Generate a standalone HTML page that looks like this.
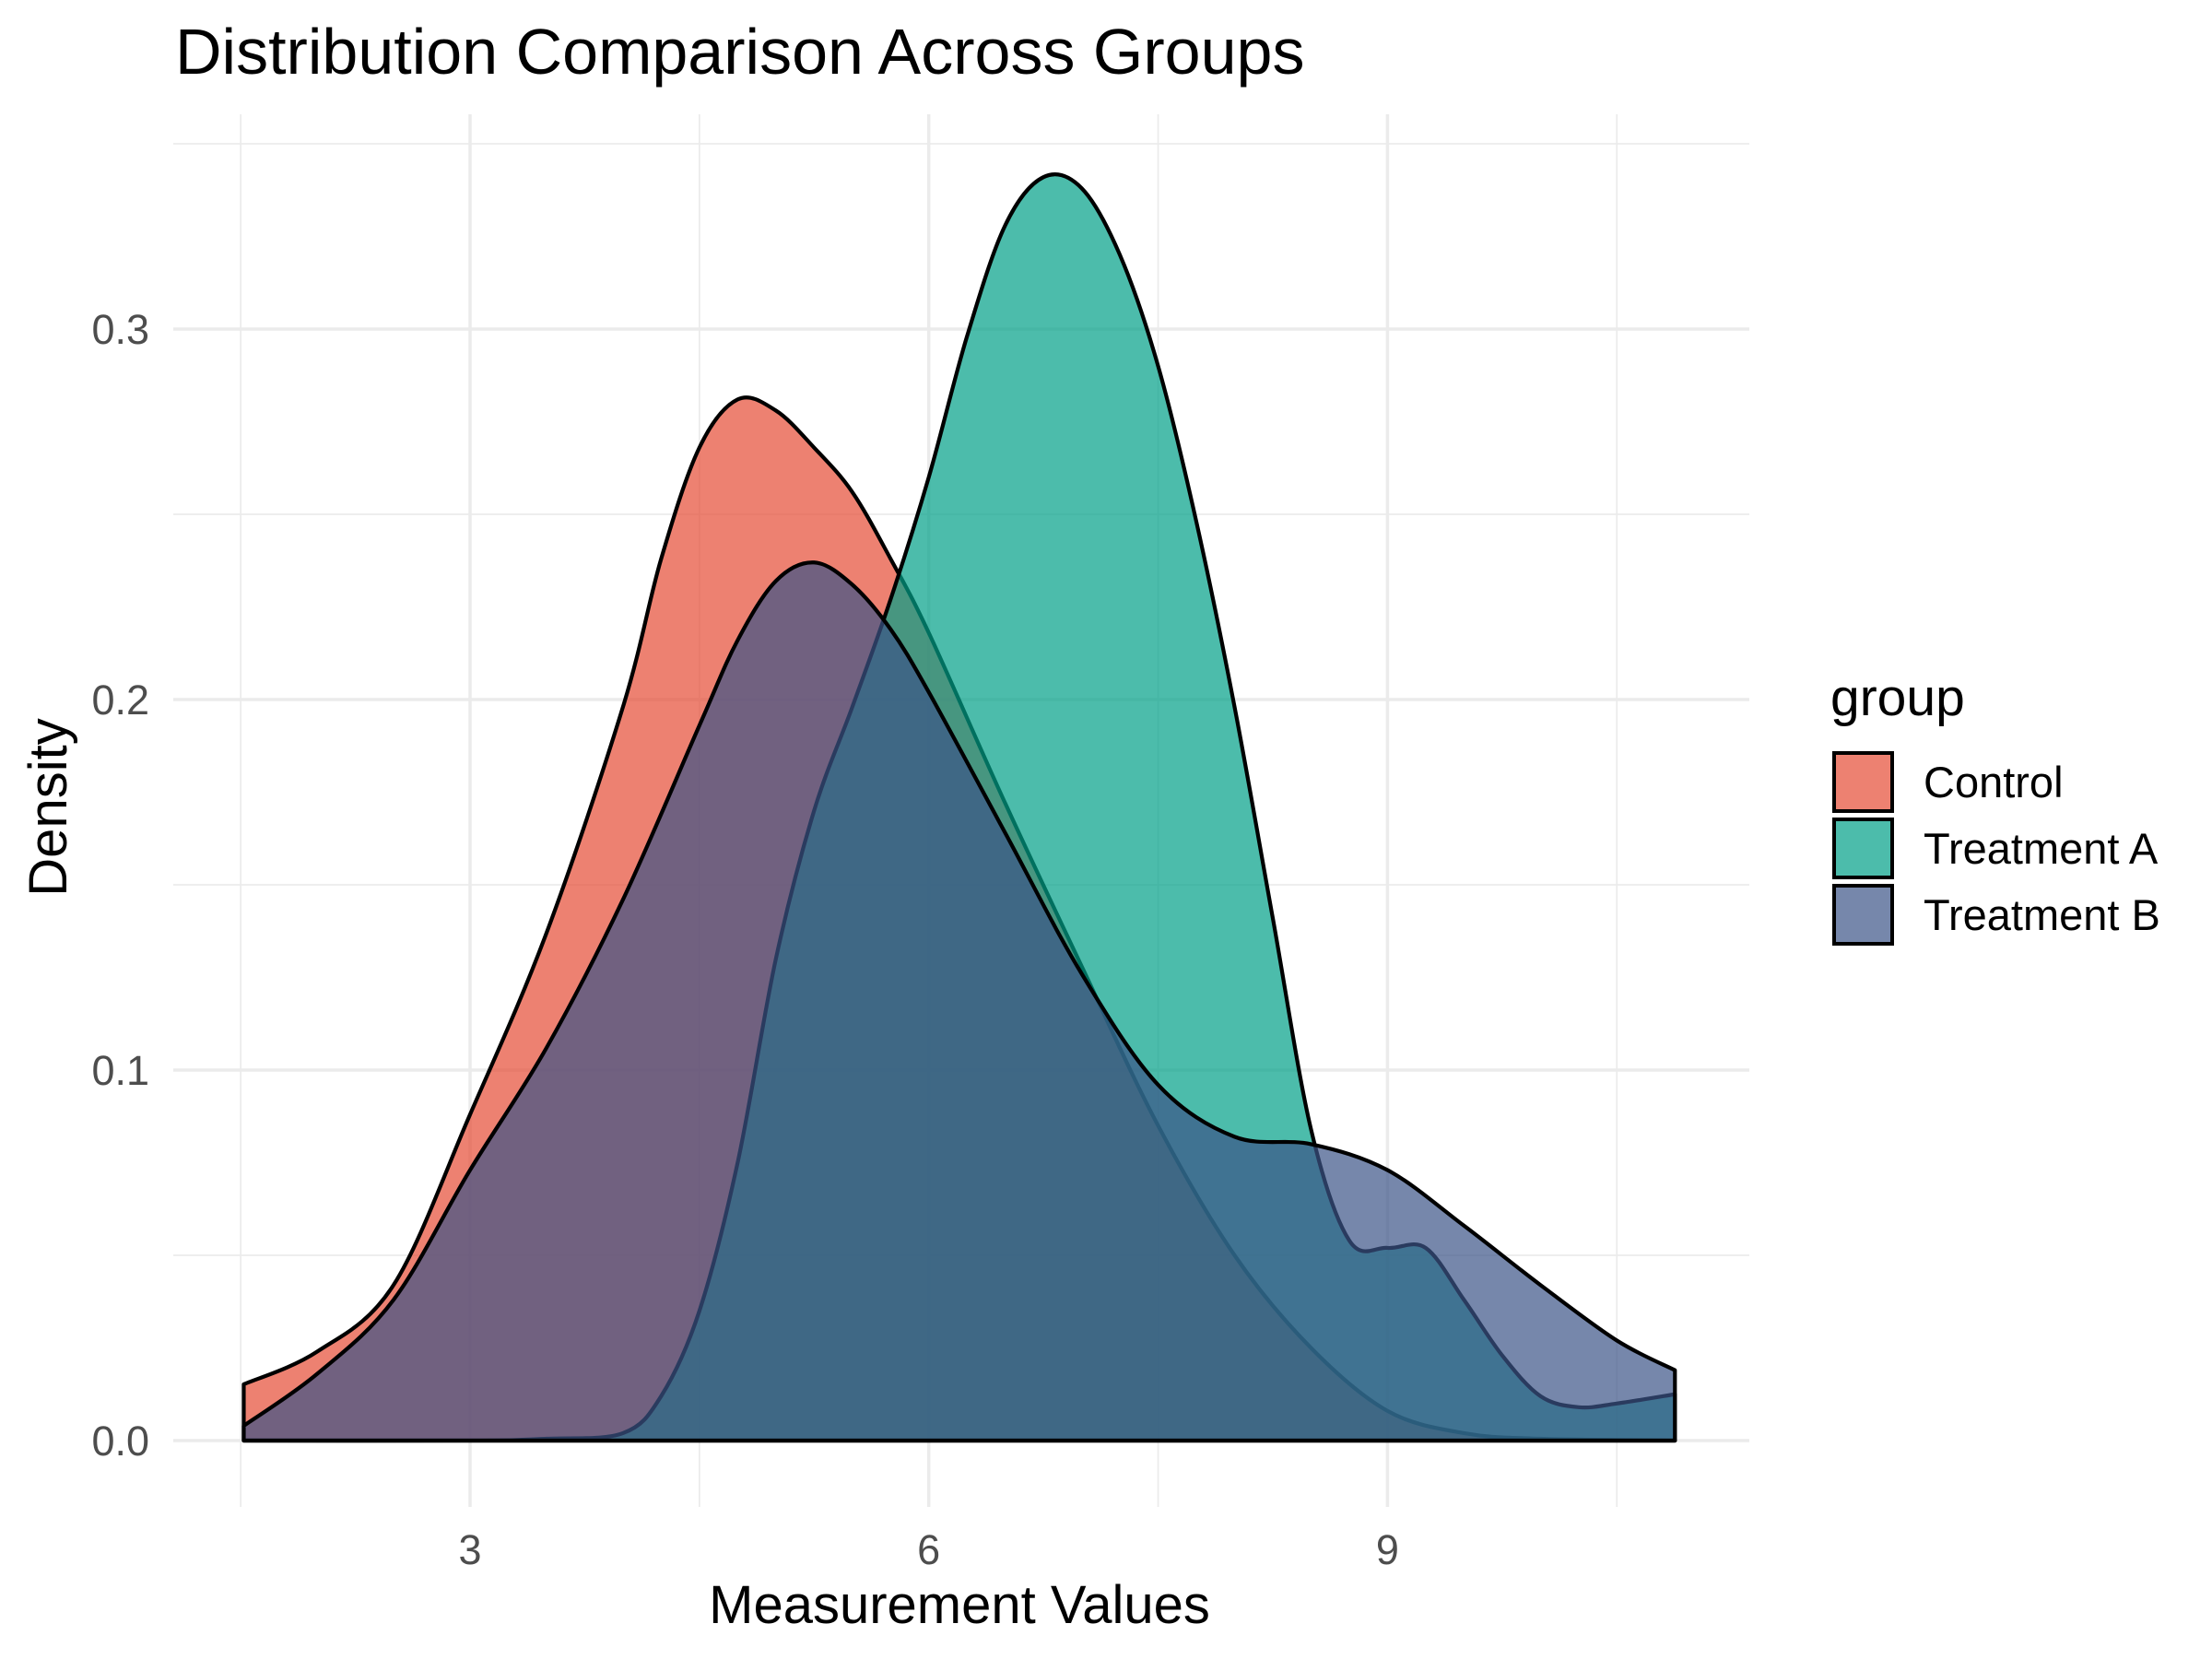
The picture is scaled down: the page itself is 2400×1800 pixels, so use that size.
<!DOCTYPE html>
<html><head><meta charset="utf-8"><style>
html,body{margin:0;padding:0;background:#fff;}
svg{display:block;font-family:"Liberation Sans",Arial,sans-serif;}
</style></head><body>
<svg id="chart" width="2400" height="1800" viewBox="0 0 2400 1800">
<text x="190" y="80" font-size="70" fill="#000">Distribution Comparison Across Groups</text>
<g id="grid"></g>
<g id="series"></g>
<g id="axes"></g>
<text x="1041" y="1761" font-size="58" text-anchor="middle" fill="#000">Measurement Values</text>
<text x="0" y="0" font-size="58" text-anchor="middle" fill="#000" transform="translate(72,876) rotate(-90)">Density</text>
<g id="legend">
<text x="1986" y="776" font-size="57" fill="#000">group</text>
</g>
</svg>
<script>
const groups = ["Control", "Treatment A", "Treatment B"];
const colors = ["#E64B35", "#00A087", "#3C5488"];
const controlX = [1.52,2.0,2.5,3.0,3.5,4.0,4.25,4.5,4.75,5.0,5.25,5.5,5.75,6.0,6.5,7.0,7.5,8.0,8.5,9.0,9.5,10.0,10.88];
const controlY = [0.0152,0.024,0.042,0.088,0.137,0.198,0.238,0.268,0.281,0.278,0.268,0.256,0.238,0.218,0.172,0.128,0.085,0.05,0.025,0.008,0.002,0.0005,0];
const treatAX = [1.52,3.0,3.5,4.0,4.25,4.5,4.75,5.0,5.25,5.5,5.75,6.0,6.25,6.5,6.75,7.0,7.25,7.5,7.75,8.0,8.25,8.5,8.75,9.0,9.25,9.5,9.75,10.0,10.25,10.5,10.88];
const treatAY = [0,0,0.0005,0.002,0.012,0.035,0.075,0.13,0.170,0.198,0.227,0.26,0.298,0.328,0.341,0.338,0.32,0.29,0.248,0.198,0.141,0.084,0.054,0.052,0.052,0.038,0.023,0.012,0.009,0.01,0.0125];
const treatBX = [1.52,2.0,2.5,3.0,3.5,4.0,4.5,4.75,5.0,5.25,5.5,5.75,6.0,6.5,7.0,7.5,8.0,8.5,9.0,9.5,10.0,10.5,10.88];
const treatBY = [0.004,0.018,0.038,0.073,0.106,0.146,0.193,0.216,0.232,0.237,0.231,0.219,0.202,0.164,0.126,0.096,0.082,0.080,0.073,0.058,0.042,0.027,0.019];
const xTicks = [3,6,9];
const xMinor = [1.5,4.5,7.5,10.5];
const yTicks = [0,0.1,0.2,0.3];
const yTickLabels = ["0.0","0.1","0.2","0.3"];
const yMinor = [0.05,0.15,0.25,0.35];

const NS="http://www.w3.org/2000/svg";
const P={l:188,r:1898,t:124,b:1635};
function xs(v){return 510+(v-3)*165.9;}
function ys(v){return 1563-v*4020;}
function mk(tag,attrs,parent){const e=document.createElementNS(NS,tag);for(const k in attrs)e.setAttribute(k,attrs[k]);parent.appendChild(e);return e;}
const grid=document.getElementById('grid');
yMinor.forEach(v=>{const l=mk('line',{x1:P.l,x2:P.r,y1:ys(v),y2:ys(v),stroke:'#EBEBEB','stroke-width':1.7},grid);

});
xMinor.forEach(v=>{const l=mk('line',{x1:xs(v),x2:xs(v),y1:P.t,y2:P.b,stroke:'#EBEBEB','stroke-width':1.7},grid);

});
yTicks.forEach(v=>{const l=mk('line',{x1:P.l,x2:P.r,y1:ys(v),y2:ys(v),stroke:'#EBEBEB','stroke-width':3.5},grid);

});
xTicks.forEach(v=>{const l=mk('line',{x1:xs(v),x2:xs(v),y1:P.t,y2:P.b,stroke:'#EBEBEB','stroke-width':3.5},grid);

});

function pathFor(X,Y){
  const pts=X.map((x,i)=>[xs(x),ys(Y[i])]);
  let d='M'+pts[0][0]+','+pts[0][1];
  for(let i=0;i<pts.length-1;i++){
    const p0=pts[i-1]||pts[i],p1=pts[i],p2=pts[i+1],p3=pts[i+2]||p2;
    const c1=[p1[0]+(p2[0]-p0[0])/6,p1[1]+(p2[1]-p0[1])/6];
    const c2=[p2[0]-(p3[0]-p1[0])/6,p2[1]-(p3[1]-p1[1])/6];
    d+=' C'+c1[0]+','+c1[1]+' '+c2[0]+','+c2[1]+' '+p2[0]+','+p2[1];
  }
  return d;
}
const series=document.getElementById('series');
const data=[[controlX,controlY],[treatAX,treatAY],[treatBX,treatBY]];
const names=['density-control','density-treatment-a','density-treatment-b'];
data.forEach((s,i)=>{
  const X=s[0],Y=s[1];
  const line=pathFor(X,Y);
  const area=line+' L'+xs(X[X.length-1])+','+ys(0)+' L'+xs(X[0])+','+ys(0)+' Z';
  const a=mk('path',{d:area,fill:colors[i],'fill-opacity':0.7,stroke:'none'},series);
  
  
  const l=mk('path',{d:area,fill:'none',stroke:'#000','stroke-width':4.2,'stroke-linejoin':'round'},series);
  
  
});
const axes=document.getElementById('axes');
xTicks.forEach(v=>{const t=mk('text',{x:xs(v),y:1697,'font-size':45,'text-anchor':'middle',fill:'#4D4D4D'},axes);t.textContent=String(v);

});
yTicks.forEach((v,i)=>{const t=mk('text',{x:162,y:ys(v)+16,'font-size':45,'text-anchor':'end',fill:'#4D4D4D'},axes);t.textContent=yTickLabels[i];

});
const legend=document.getElementById('legend');
groups.forEach((g,i)=>{
  const y0=817+i*72;
  const r=mk('rect',{x:1990,y:y0,width:63,height:63,fill:colors[i],'fill-opacity':0.7,stroke:'#000','stroke-width':4},legend);
  
  
  const t=mk('text',{x:2087,y:y0+48,'font-size':47,fill:'#000'},legend);t.textContent=g;
  
  
});
</script>
</body></html>
